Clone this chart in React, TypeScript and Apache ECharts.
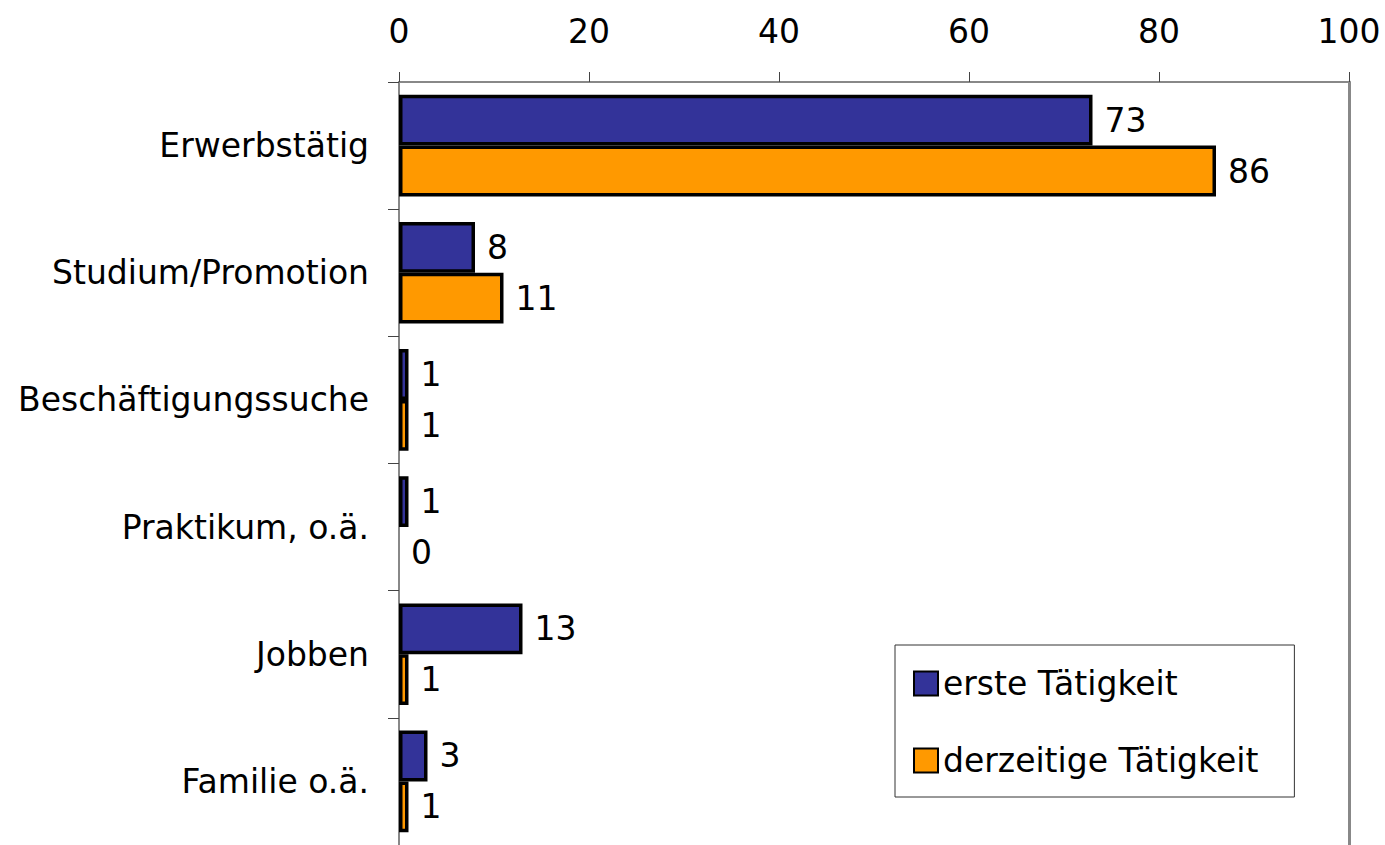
import React, { useEffect, useRef } from "react";
import * as echarts from "echarts";

const categories = [
  "Erwerbstätig",
  "Studium/Promotion",
  "Beschäftigungssuche",
  "Praktikum, o.ä.",
  "Jobben",
  "Familie o.ä.",
];
const ersteTaetigkeit = [73, 8, 1, 1, 13, 3];
const derzeitigeTaetigkeit = [86, 11, 1, 0, 1, 1];
const seriesNames = ["erste Tätigkeit", "derzeitige Tätigkeit"];

const FONT = "DejaVu Sans";
const FS = 33;

const toData = (arr: number[]) =>
  arr.map((v) => (v === 0 ? { value: v, itemStyle: { borderWidth: 0 } } : v));

export default function App() {
  const ref = useRef<HTMLDivElement>(null);
  useEffect(() => {
    if (!ref.current) return;
    const chart = echarts.init(ref.current, undefined, { renderer: "svg" });
    const label = {
      show: true,
      position: "right",
      distance: 12,
      color: "#000",
      fontSize: FS,
      fontFamily: FONT,
    };
    chart.setOption({
      animation: false,
      backgroundColor: "#fff",
      textStyle: { fontFamily: FONT },
      grid: { left: 399, right: 36, top: 82, bottom: 0 },
      legend: {
        orient: "vertical",
        left: 895,
        top: 645,
        padding: [22, 36, 20, 18],
        itemGap: 44,
        itemWidth: 24,
        itemHeight: 24,
        itemTextGap: 9,
        borderColor: "#333",
        borderWidth: 1,
        backgroundColor: "#fff",
        icon: "rect",
        textStyle: { fontSize: FS, fontFamily: FONT, color: "#000" },
        data: seriesNames,
      },
      xAxis: {
        type: "value",
        position: "top",
        min: 0,
        max: 100,
        interval: 20,
        axisLine: { show: true, lineStyle: { color: "#888", width: 2 } },
        axisTick: { show: true, length: 10, lineStyle: { color: "#444", width: 1 } },
        axisLabel: { fontSize: FS, fontFamily: FONT, color: "#000", margin: 34 },
        splitLine: { show: false },
      },
      yAxis: [
        {
          type: "category",
          inverse: true,
          data: categories,
          axisLine: { show: true, lineStyle: { color: "#888", width: 2 } },
          axisTick: { show: true, length: 11, lineStyle: { color: "#444", width: 1 } },
          axisLabel: { fontSize: FS, fontFamily: FONT, color: "#000", margin: 30 },
        },
        {
          type: "category",
          inverse: true,
          position: "right",
          data: categories,
          axisLine: { show: true, lineStyle: { color: "#888", width: 3 } },
          axisTick: { show: false },
          axisLabel: { show: false },
        },
      ],
      series: [
        {
          name: seriesNames[0],
          type: "bar",
          data: toData(ersteTaetigkeit),
          barGap: "0%",
          barCategoryGap: "20%",
          itemStyle: { color: "#333399", borderColor: "#000", borderWidth: 3.5 },
          label,
        },
        {
          name: seriesNames[1],
          type: "bar",
          data: toData(derzeitigeTaetigkeit),
          barGap: "0%",
          barCategoryGap: "20%",
          itemStyle: { color: "#FF9900", borderColor: "#000", borderWidth: 3.5 },
          label,
        },
      ],
    });
    return () => chart.dispose();
  }, []);
  return (
    <div
      ref={ref}
      style={{ position: "fixed", left: 0, top: 0, width: 1385, height: 845 }}
    />
  );
}
